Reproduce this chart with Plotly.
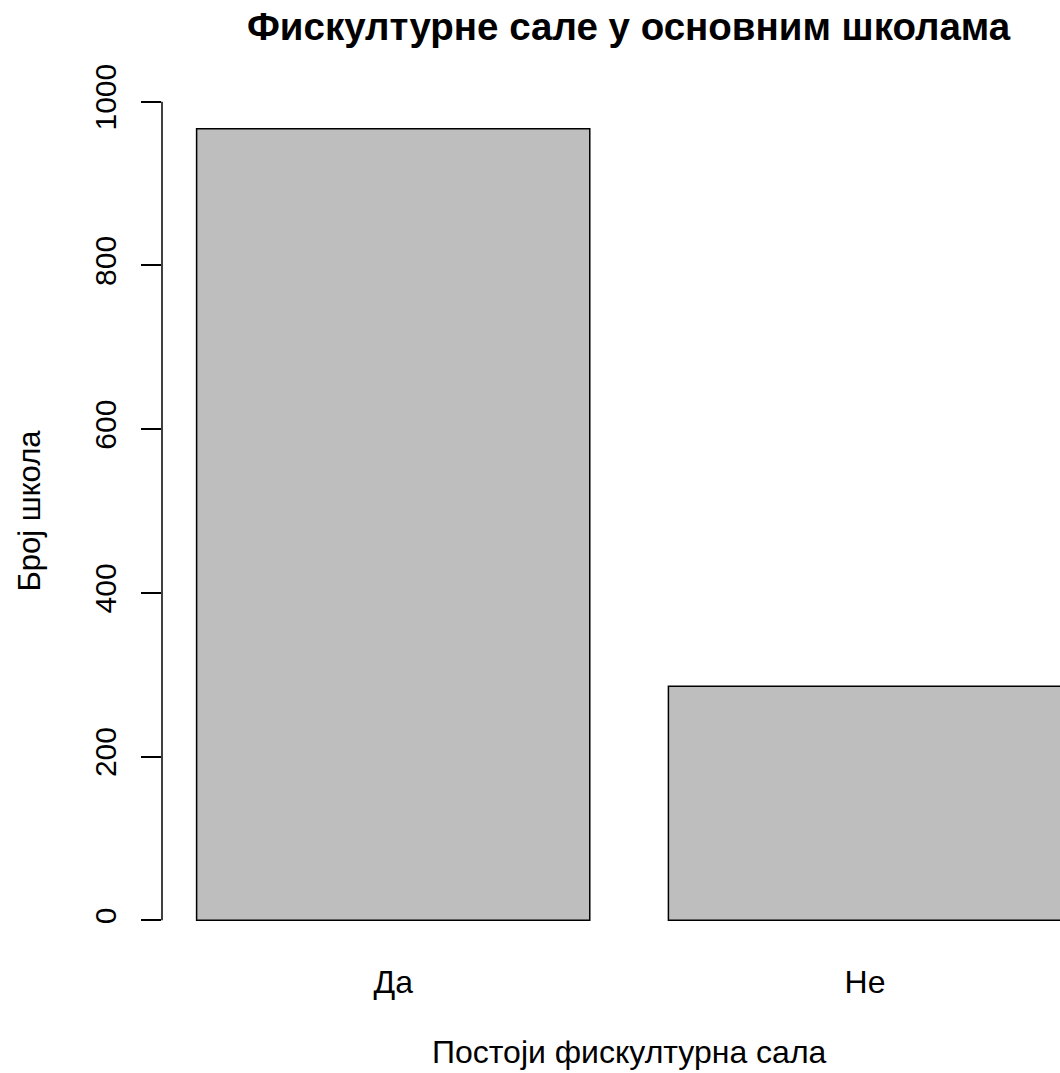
import plotly.graph_objects as go

categories = ["Да", "Не"]
counts = [967, 286]
y_ticks = [0, 200, 400, 600, 800, 1000]

title_text = "Фискултурне сале у основним школама"
x_label = "Постоји фискултурна сала"
y_label = "Број школа"

FONT = "Liberation Sans, Arial, sans-serif"

W, H = 1060, 1073
PLOT_L, PLOT_R, PLOT_T, PLOT_B = 162.4, 1060, 97.1, 952.4
PH = PLOT_B - PLOT_T
PW = PLOT_R - PLOT_L

fig = go.Figure(
    go.Bar(
        x=categories,
        y=counts,
        width=1 / 1.2,
        marker=dict(color="#BEBEBE", line=dict(color="black", width=1.5)),
    )
)

fig.update_layout(
    width=W,
    height=H,
    margin=dict(l=PLOT_L, r=W - PLOT_R, t=PLOT_T, b=H - PLOT_B, pad=0),
    paper_bgcolor="white",
    plot_bgcolor="white",
    showlegend=False,
    font=dict(family=FONT, size=30, color="black"),
    xaxis=dict(
        type="category",
        range=[-0.49, 1.4133],
        showline=False,
        showgrid=False,
        zeroline=False,
        ticks="",
        tickfont=dict(size=32),
        ticklabelstandoff=8,
    ),
    yaxis=dict(
        range=[-38.7, 1005.7],
        tickvals=y_ticks,
        ticktext=[str(v) for v in y_ticks],
        tickangle=-90,
        ticks="outside",
        ticklen=20,
        tickwidth=1.5,
        tickcolor="black",
        showline=False,
        showgrid=False,
        zeroline=False,
        tickfont=dict(size=30),
        ticklabelstandoff=13,
    ),
    shapes=[
        dict(type="line", xref="paper", yref="y", x0=0, x1=0,
             y0=y_ticks[0], y1=y_ticks[-1],
             line=dict(color="black", width=1.5)),
    ],
    annotations=[
        dict(text="<b>" + title_text + "</b>", xref="x", yref="paper",
             x=0.5, y=1 + (PLOT_T - 27) / PH, xanchor="center", yanchor="middle",
             showarrow=False, font=dict(size=38.5, family=FONT)),
        dict(text=x_label, xref="x", yref="paper",
             x=0.5, y=-(1052 - PLOT_B) / PH, xanchor="center", yanchor="middle",
             showarrow=False, font=dict(size=32, family=FONT)),
        dict(text=y_label, xref="paper", yref="y",
             x=-(PLOT_L - 30) / PW, y=500, xanchor="center", yanchor="middle",
             textangle=-90, showarrow=False, font=dict(size=31, family=FONT)),
    ],
)

fig.write_html(
    "out.html",
    config={"displayModeBar": False},
    post_script="document.body.style.margin='0';document.body.style.overflow='hidden';",
)
